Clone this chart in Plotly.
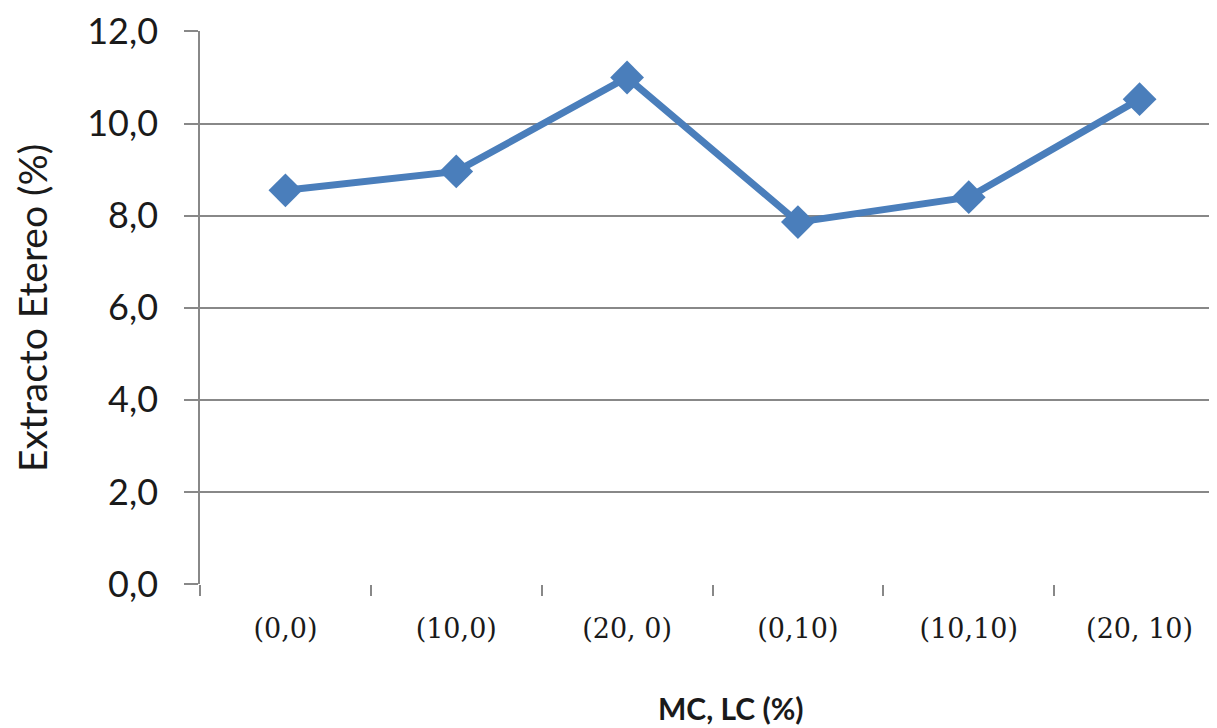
import plotly.graph_objects as go

categories = ["(0,0)", "(10,0)", "(20, 0)", "(0,10)", "(10,10)", "(20, 10)"]
values = [8.55, 8.96, 11.0, 7.86, 8.40, 10.53]
y_ticks = [0, 2, 4, 6, 8, 10, 12]

# page body has an 8px offset; work in figure pixels = viewport - 8
OFF = 8
W, H = 1217, 728
L, T = 200 - OFF, 31 - OFF
R = 0
B = H - (584 - OFF)
pw, ph = W - L - R, H - T - B


def px(xv):
    return (xv - OFF - L) / pw


def py(yv):
    return (H - B - (yv - OFF)) / ph


fig = go.Figure()
fig.add_trace(go.Scatter(
    x=categories, y=values, mode="lines+markers",
    line=dict(color="#4A7EBB", width=7),
    marker=dict(symbol="diamond", size=26, color="#4A7EBB"),
    showlegend=False,
))

fig.update_layout(
    width=W, height=H,
    margin=dict(l=L, r=R, t=T, b=B, autoexpand=False),
    paper_bgcolor="white", plot_bgcolor="white",
    separators=",.",
    font=dict(family="Lato", color="#1a1a1a"),
    xaxis=dict(
        type="category", range=[-0.5, 5.5], automargin=False,
        tickson="boundaries", ticks="outside", ticklen=11, tickwidth=1.5, tickcolor="#888",
        showgrid=False, showline=False, zeroline=False,
        tickfont=dict(size=27, family="DejaVu Serif"), ticklabelstandoff=26,
    ),
    yaxis=dict(
        range=[0, 12.01], tickvals=y_ticks, tickformat=".1f", automargin=False,
        ticks="outside", ticklen=14, tickwidth=1.5, tickcolor="#888",
        showgrid=True, gridcolor="#888", gridwidth=1.5,
        showline=True, linecolor="#888", linewidth=1.5,
        zeroline=False, ticklabeloverflow="allow",
        tickfont=dict(size=36), ticklabelstandoff=19,
    ),
    annotations=[
        dict(text="Extracto Etereo (%)", xref="paper", yref="paper",
             x=px(32), y=py(308), xanchor="center", yanchor="middle",
             showarrow=False, textangle=-90, font=dict(size=39)),
        dict(text="<b>MC, LC (%)</b>", xref="paper", yref="paper",
             x=px(731), y=py(728), xanchor="center", yanchor="bottom",
             showarrow=False, font=dict(size=30)),
    ],
)

fig.write_html("out.html")
